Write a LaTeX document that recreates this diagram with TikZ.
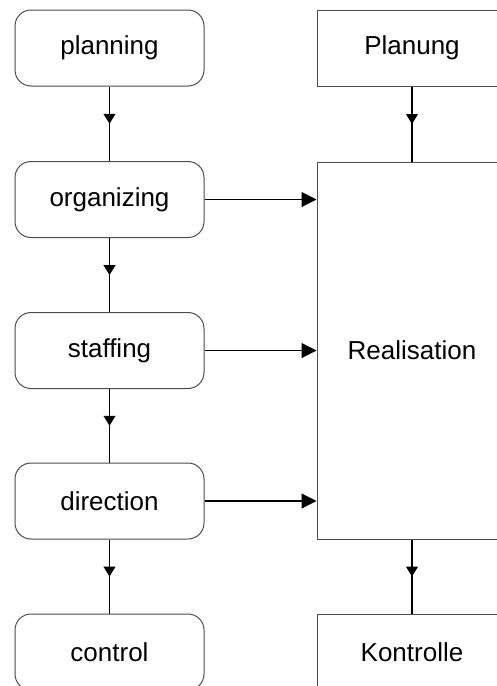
\documentclass[tikz,border=0pt]{standalone}
\usepackage{fontspec}
\setmainfont{Liberation Sans}
\usetikzlibrary{arrows.meta,decorations.markings}
\begin{document}
\begin{tikzpicture}[x=1pt,y=-1pt,
  every node/.style={font=\fontsize{26}{31}\selectfont, inner sep=0pt},
  roundbox/.style={draw=black!70, line width=1pt, rounded corners=16pt,
    minimum width=189pt, minimum height=76pt},
  plainbox/.style={draw=black!70, line width=1pt,
    minimum width=190pt, minimum height=76pt},
  flow/.style={draw=black, line width=1.3pt,
    postaction={decorate},
    decoration={markings, mark=at position 0.5 with {\arrow{Triangle[length=10pt,width=12pt]}}}},
  feed/.style={draw=black, line width=1.1pt, -{Triangle[length=15pt,width=15pt]}}]
  \useasboundingbox (0,0) rectangle (497,686);

  % management functions (left column)
  \node[roundbox] (planning)   at (109.5,48)  {planning};
  \node[roundbox] (organizing) at (109.5,199.5) {organizing};
  \node[roundbox] (staffing)   at (109.5,350.5) {staffing};
  \node[roundbox] (direction)  at (109.5,501)  {direction};
  \node[roundbox] (control)    at (109.5,652)  {control};

  % management cycle (right column)
  \node[plainbox] (planung) at (412,48) {Planung};
  \node[draw=black!70, line width=1pt, minimum width=190pt, minimum height=377pt]
    (realisation) at (412,350.5) {Realisation};
  \node[plainbox] (kontrolle) at (412,652) {Kontrolle};

  % vertical flow
  \draw[flow] (planning.south) -- (organizing.north);
  \draw[flow] (organizing.south) -- (staffing.north);
  \draw[flow] (staffing.south) -- (direction.north);
  \draw[flow] (direction.south) -- (control.north);
  \draw[flow] (planung.south) -- (realisation.north);
  \draw[flow] (realisation.south) -- (kontrolle.north);

  % inputs into the realisation phase
  \draw[feed] (organizing.east) -- (organizing.east -| realisation.west);
  \draw[feed] (staffing.east) -- (staffing.east -| realisation.west);
  \draw[feed] (direction.east) -- (direction.east -| realisation.west);
\end{tikzpicture}
\end{document}
